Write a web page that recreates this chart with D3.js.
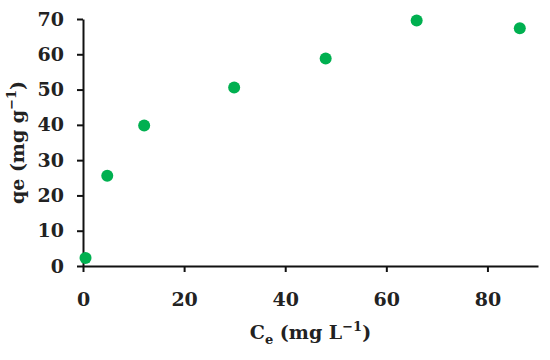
<!DOCTYPE html>
<html>
<head>
<meta charset="utf-8">
<script src="https://cdn.jsdelivr.net/npm/d3@7"></script>
<style>
  body { margin: 0; background: #fff; }
  text { font-family: "DejaVu Serif", serif; font-weight: bold; fill: #222; }
</style>
</head>
<body>
<svg id="chart" width="550" height="360"></svg>
<script>
// Data
const ceValues = [0.5, 4.8, 12.1, 29.9, 48.0, 66.0, 86.4];
const qeValues = [2.3, 25.6, 39.8, 50.6, 58.8, 69.6, 67.4];
const xTicks = [0, 20, 40, 60, 80];
const yTicks = [0, 10, 20, 30, 40, 50, 60, 70];

const svg = d3.select('#chart');
const margin = { left: 83, right: 12, top: 19, bottom: 94 };
const width = 550 - margin.left - margin.right;
const height = 360 - margin.top - margin.bottom;

const x = d3.scaleLinear().domain([0, 90]).range([0, width]);
const y = d3.scaleLinear().domain([0, 70]).range([height, 0]);

const g = svg.append('g').attr('transform', `translate(${margin.left},${margin.top})`);

// axes
const xAxis = g.append('g')
    .attr('transform', `translate(0,${height})`)
    .call(d3.axisBottom(x).tickValues(xTicks).tickSize(6).tickPadding(21).tickSizeOuter(0));
const yAxis = g.append('g')
    .call(d3.axisLeft(y).tickValues(yTicks).tickSize(6).tickPadding(13).tickSizeOuter(0));

[xAxis, yAxis].forEach(a => {
    a.select('.domain').attr('stroke', '#111').attr('stroke-width', 2);
    a.selectAll('.tick line').attr('stroke', '#111').attr('stroke-width', 2);
    a.selectAll('.tick text')
        .style('font-family', '"DejaVu Serif", serif')
        .style('font-weight', 'bold')
        .style('font-size', '19px')
        .attr('fill', '#222');
});

// points
const points = ceValues.map((c, i) => ({ x: c, y: qeValues[i] }));
g.selectAll('circle')
    .data(points)
    .enter()
    .append('circle')
    .attr('cx', d => x(d.x))
    .attr('cy', d => y(d.y))
    .attr('r', 6)
    .attr('fill', '#00B050');

// axis titles
const xt = svg.append('text')
    .attr('x', margin.left + width / 2)
    .attr('y', 339)
    .attr('text-anchor', 'middle')
    .style('font-size', '19px');
xt.append('tspan').text('C');
xt.append('tspan').text('e').attr('dy', 5).style('font-size', '13px');
xt.append('tspan').text(' (mg L').attr('dy', -5);
xt.append('tspan').text('\u22121').attr('dy', -8).style('font-size', '13px');
xt.append('tspan').text(')').attr('dy', 8);

const yt = svg.append('text')
    .attr('transform', `translate(24,${margin.top + height / 2}) rotate(-90)`)
    .attr('text-anchor', 'middle')
    .style('font-size', '19px');
yt.append('tspan').text('qe (mg g');
yt.append('tspan').text('\u22121').attr('dy', -8).style('font-size', '13px');
yt.append('tspan').text(')').attr('dy', 8);
</script>
</body>
</html>
